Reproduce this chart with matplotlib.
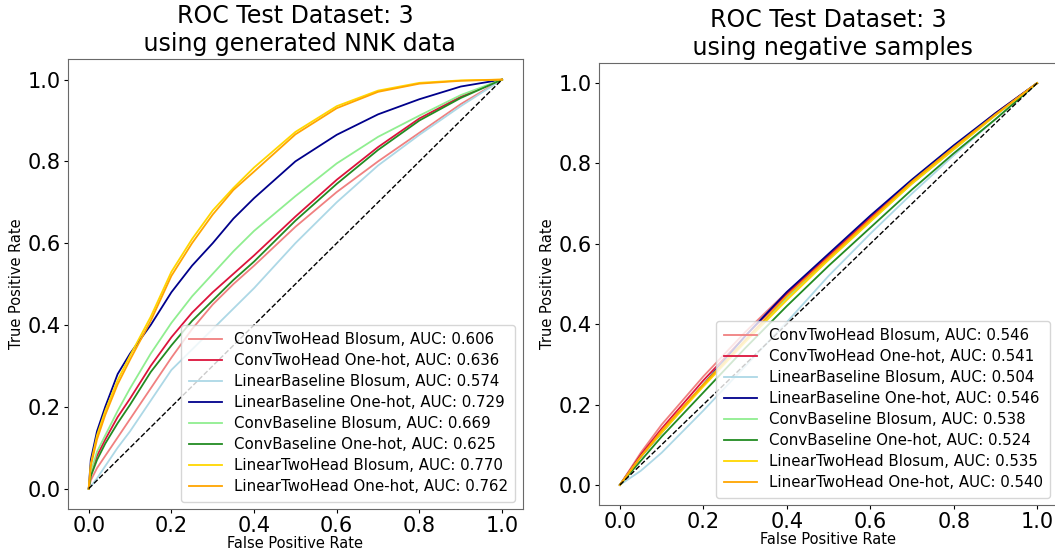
import matplotlib
matplotlib.use('Agg')
import matplotlib.pyplot as plt

# model names, colours and AUCs (read from the legends)
nomes = ['ConvTwoHead Blosum', 'ConvTwoHead One-hot', 'LinearBaseline Blosum',
         'LinearBaseline One-hot', 'ConvBaseline Blosum', 'ConvBaseline One-hot',
         'LinearTwoHead Blosum', 'LinearTwoHead One-hot']
cores = ['lightcoral', 'crimson', 'lightblue', 'darkblue',
         'lightgreen', 'forestgreen', 'gold', 'orange']
auc_nnk = [0.606, 0.636, 0.574, 0.729, 0.669, 0.625, 0.770, 0.762]
auc_neg = [0.546, 0.541, 0.504, 0.546, 0.538, 0.524, 0.535, 0.540]

# left panel: generated NNK data (fpr grid + tpr per model)
fpr_nnk = [0, 0.005, 0.02, 0.04, 0.07, 0.1, 0.15, 0.2, 0.25, 0.3, 0.35, 0.4, 0.5, 0.6, 0.7, 0.8, 0.9, 1.0]
tpr_nnk = [
    [0, 0.02, 0.05, 0.08, 0.125, 0.17, 0.245, 0.32, 0.39, 0.45, 0.50, 0.545, 0.64, 0.725, 0.80, 0.87, 0.94, 1.0],
    [0, 0.04, 0.08, 0.12, 0.175, 0.22, 0.30, 0.37, 0.43, 0.48, 0.525, 0.57, 0.665, 0.755, 0.835, 0.905, 0.958, 1.0],
    [0, 0.005, 0.025, 0.055, 0.10, 0.14, 0.215, 0.29, 0.34, 0.39, 0.44, 0.49, 0.60, 0.70, 0.79, 0.865, 0.935, 1.0],
    [0, 0.07, 0.14, 0.20, 0.28, 0.33, 0.40, 0.48, 0.545, 0.60, 0.66, 0.71, 0.80, 0.865, 0.915, 0.952, 0.983, 1.0],
    [0, 0.04, 0.09, 0.13, 0.19, 0.245, 0.33, 0.405, 0.47, 0.525, 0.58, 0.63, 0.715, 0.795, 0.86, 0.912, 0.962, 1.0],
    [0, 0.03, 0.07, 0.11, 0.16, 0.205, 0.285, 0.35, 0.41, 0.46, 0.51, 0.555, 0.655, 0.745, 0.828, 0.90, 0.955, 1.0],
    [0, 0.06, 0.13, 0.19, 0.265, 0.325, 0.42, 0.53, 0.61, 0.68, 0.735, 0.785, 0.872, 0.935, 0.973, 0.992, 0.998, 1.0],
    [0, 0.055, 0.12, 0.18, 0.255, 0.315, 0.41, 0.52, 0.60, 0.67, 0.73, 0.775, 0.866, 0.93, 0.97, 0.99, 0.997, 1.0],
]

# right panel: negative samples
fpr_neg = [0, 0.05, 0.1, 0.2, 0.3, 0.4, 0.5, 0.6, 0.7, 0.8, 0.9, 1.0]
tpr_neg = [
    [0, 0.08, 0.15, 0.27, 0.38, 0.48, 0.57, 0.66, 0.75, 0.835, 0.92, 1.0],
    [0, 0.075, 0.14, 0.26, 0.37, 0.475, 0.57, 0.665, 0.755, 0.84, 0.925, 1.0],
    [0, 0.035, 0.08, 0.185, 0.295, 0.405, 0.52, 0.625, 0.725, 0.82, 0.91, 1.0],
    [0, 0.07, 0.13, 0.25, 0.37, 0.48, 0.575, 0.67, 0.76, 0.845, 0.925, 1.0],
    [0, 0.07, 0.13, 0.25, 0.36, 0.465, 0.56, 0.655, 0.75, 0.835, 0.92, 1.0],
    [0, 0.06, 0.12, 0.23, 0.34, 0.445, 0.545, 0.64, 0.735, 0.825, 0.91, 1.0],
    [0, 0.07, 0.13, 0.245, 0.355, 0.46, 0.56, 0.655, 0.75, 0.835, 0.92, 1.0],
    [0, 0.07, 0.135, 0.25, 0.36, 0.47, 0.565, 0.66, 0.755, 0.84, 0.922, 1.0],
]


def painel(ax, fpr, tprs, aucs, titulo):
    for nome, cor, tpr, auc in zip(nomes, cores, tprs, aucs):
        ax.plot(fpr, tpr, color=cor, lw=1.3, label='%s, AUC: %.3f' % (nome, auc))
    ax.plot([0, 1], [0, 1], 'k--', lw=1)
    ax.set_xlim(-0.05, 1.05)
    ax.set_ylim(-0.05, 1.05)
    ax.set_title(titulo, fontsize=17)
    ax.set_xlabel('False Positive Rate', fontsize=10.5, labelpad=0)
    ax.set_ylabel('True Positive Rate', fontsize=10.5, labelpad=3)
    ax.tick_params(labelsize=15, length=3, pad=2)
    for s in ax.spines.values():
        s.set_color('dimgray')
    ax.legend(loc='lower right', fontsize=10.8, labelspacing=0.4,
              handlelength=2.2, handletextpad=0.8, borderpad=0.5)


figura = plt.figure(figsize=(10.55, 5.5), dpi=100)
ax1 = figura.add_axes([0.0645, 0.0745, 0.431, 0.818])
ax2 = figura.add_axes([0.5678, 0.0818, 0.435, 0.8036])
painel(ax1, fpr_nnk, tpr_nnk, auc_nnk, 'ROC Test Dataset: 3\n using generated NNK data')
painel(ax2, fpr_neg, tpr_neg, auc_neg, 'ROC Test Dataset: 3\n using negative samples')

plt.savefig('out.png', dpi=100)
